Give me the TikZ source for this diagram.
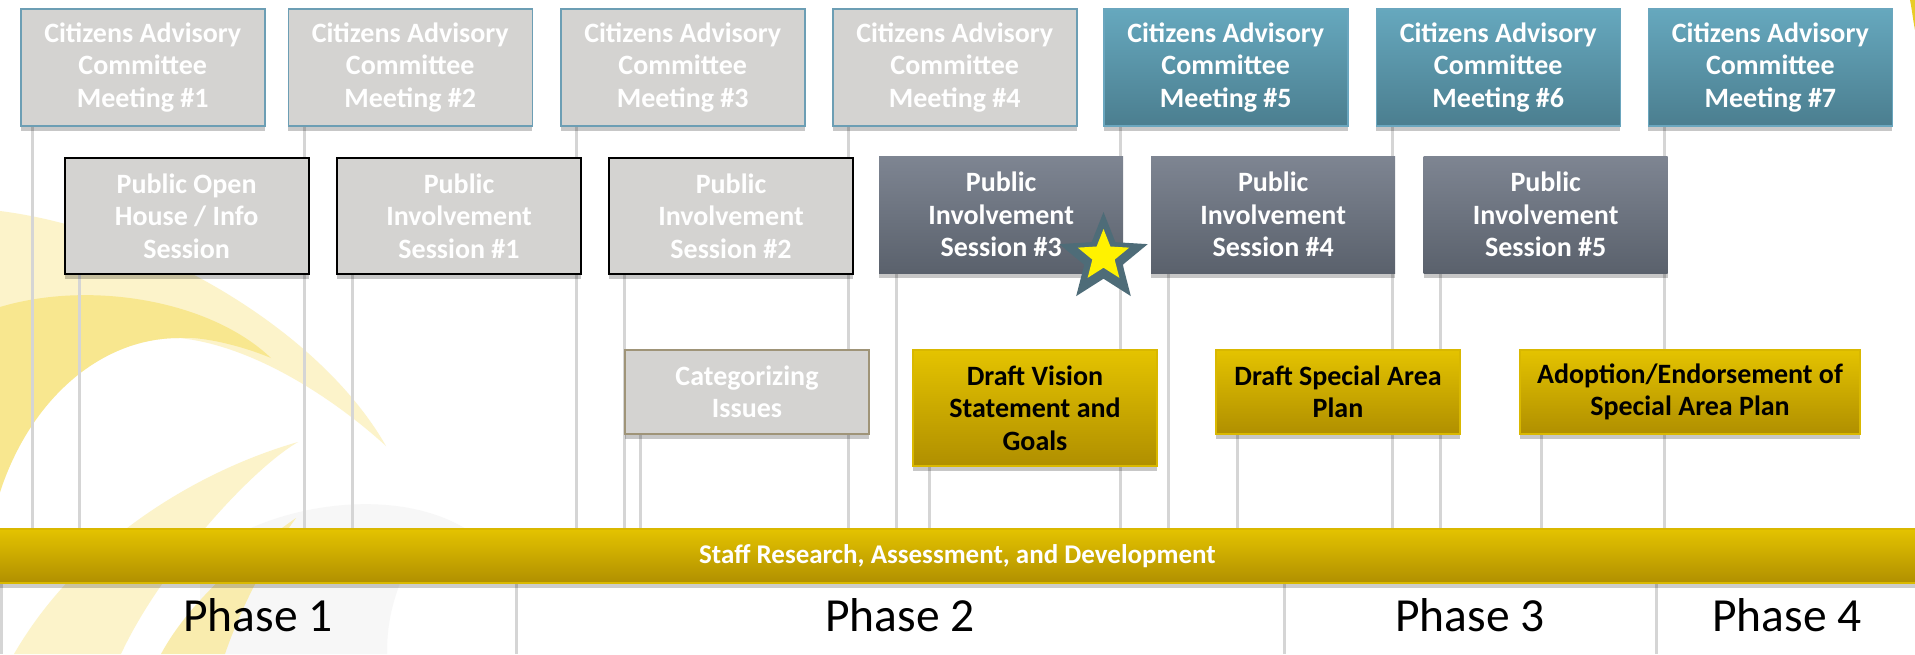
\documentclass[tikz,border=0pt]{standalone}
\usepackage{fontspec}
\setmainfont{Carlito}
\usetikzlibrary{shapes.geometric,shadows,calc}
\pgfdeclarelayer{deco}\pgfdeclarelayer{bg}
\pgfsetlayers{deco,bg,main}
\definecolor{boxgray}{HTML}{D4D3D1}
\definecolor{cacedge}{HTML}{6C9EB4}
\definecolor{tealtop}{HTML}{66A8BE}
\definecolor{tealbot}{HTML}{4B7E8F}
\definecolor{tealedge}{HTML}{6AA6BE}
\definecolor{slatetop}{HTML}{7E8592}
\definecolor{slatebot}{HTML}{5A616C}
\definecolor{ytop}{HTML}{E4C300}
\definecolor{ybot}{HTML}{B08F00}
\definecolor{yedge}{HTML}{D9B800}
\definecolor{catedge}{HTML}{9F9478}
\definecolor{vl}{HTML}{D5D5D5}
\definecolor{swpale}{HTML}{FCF3CA}
\definecolor{swdark}{HTML}{F8E78F}
\definecolor{swmid}{HTML}{F9ECAE}
\definecolor{faintgray}{HTML}{F7F7F7}
\definecolor{stardark}{HTML}{4E6C78}
\begin{document}
\begin{tikzpicture}[x=1pt,y=-1pt,
  box/.style={anchor=north west, inner sep=0pt, align=center,
    font=\bfseries\fontsize{28}{32.5}\selectfont, minimum width=244pt,
    drop shadow={shadow xshift=0pt,shadow yshift=-5pt,opacity=.22,fill=black}},
  cacold/.style={box, minimum height=117pt, fill=boxgray, draw=cacedge, line width=1.5pt, text=white},
  cacnew/.style={box, minimum height=117pt, top color=tealtop, bottom color=tealbot, draw=tealedge, line width=1.5pt, text=white},
  pisold/.style={box, minimum height=116pt, fill=boxgray, draw=black, line width=2pt, text=white},
  pisnew/.style={box, minimum height=117pt, top color=slatetop, bottom color=slatebot, draw=none, text=white},
  taskold/.style={box, fill=boxgray, draw=catedge, line width=2pt, text=white},
  tasknew/.style={box, top color=ytop, bottom color=ybot, draw=yedge, line width=2pt, text=black},
  vline/.style={draw=vl, line width=3pt},
  phaselbl/.style={anchor=base, font=\fontsize{47.5}{50}\selectfont, text=black},
]
\useasboundingbox (0,0) rectangle (1915,654);

% background decoration
\begin{pgfonlayer}{deco}
\fill[white] (0,0) rectangle (1915,654);
\fill[faintgray] (200,560) .. controls (260,505) and (400,480) .. (475,535)
  -- (400,583) .. controls (390,610) and (387,630) .. (387,654) -- (200,654) -- cycle;
\fill[swpale] (0,211) .. controls (150,230) and (320,330) .. (386,446)
  .. controls (330,395) and (250,345) .. (179,338)
  .. controls (100,338) and (30,400) .. (0,492) -- cycle;
\fill[swdark] (0,307) .. controls (90,280) and (210,300) .. (271,358)
  .. controls (240,345) and (200,336) .. (179,338)
  .. controls (100,338) and (30,400) .. (0,492) -- cycle;
\fill[swpale] (14,654) .. controls (80,540) and (200,470) .. (298,442)
  .. controls (250,470) and (160,570) .. (121,654) -- cycle;
\fill[swmid] (296,518) .. controls (250,550) and (190,600) .. (161,654)
  -- (225,654) .. controls (240,610) and (265,560) .. (296,518) -- cycle;
\fill[ytop!85!white] (1910,0) .. controls (1912,10) and (1913,20) .. (1915,30) -- (1915,0) -- cycle;
\end{pgfonlayer}

% row 1: Citizens Advisory Committee meetings
\node[cacold] (cac1) at (20,8)     {Citizens Advisory\\Committee\\Meeting \#1};
\node[cacold] (cac2) at (287.5,8)  {Citizens Advisory\\Committee\\Meeting \#2};
\node[cacold] (cac3) at (560,8)    {Citizens Advisory\\Committee\\Meeting \#3};
\node[cacold] (cac4) at (832,8)    {Citizens Advisory\\Committee\\Meeting \#4};
\node[cacnew] (cac5) at (1103,8)   {Citizens Advisory\\Committee\\Meeting \#5};
\node[cacnew] (cac6) at (1375.5,8) {Citizens Advisory\\Committee\\Meeting \#6};
\node[cacnew] (cac7) at (1647.6,8) {Citizens Advisory\\Committee\\Meeting \#7};

% row 2: public sessions
\node[pisold] (poh)  at (63.6,157)  {Public Open\\House / Info\\Session};
\node[pisold] (pis1) at (336,157)   {Public\\Involvement\\Session \#1};
\node[pisold] (pis2) at (608,157)   {Public\\Involvement\\Session \#2};
\node[pisnew] (pis3) at (879,156)   {Public\\Involvement\\Session \#3};
\node[pisnew] (pis4) at (1151,156)  {Public\\Involvement\\Session \#4};
\node[pisnew] (pis5) at (1423.5,156){Public\\Involvement\\Session \#5};

% row 3: tasks
\node[taskold, minimum height=84pt] (cat) at (624,349) {Categorizing\\Issues};
\node[tasknew, minimum height=116pt] (dvs) at (912,349) {Draft Vision\\Statement and\\Goals};
\node[tasknew, minimum height=84pt] (dsap) at (1215,349) {Draft Special Area\\Plan};
\node[tasknew, minimum height=84pt, minimum width=340pt] (adopt) at (1519,349) {Adoption/Endorsement of\\Special Area Plan};

% staff bar
\node[inner sep=0pt, minimum width=1935pt, minimum height=54pt,
  top color=ytop, bottom color=ybot, draw=yedge, line width=2pt, text=white,
  font=\bfseries\fontsize{27}{32}\selectfont,
  drop shadow={shadow xshift=0pt,shadow yshift=-5pt,opacity=.2,fill=black}]
  (bar) at (957.5,556) {Staff Research, Assessment, and Development};

% star
\node[star, star points=5, star point ratio=2.3, fill=stardark, inner sep=0pt, minimum size=93pt] (star) at (1103.5,258.5) {};
\node[star, star points=5, star point ratio=2.3, fill=yellow, inner sep=0pt, minimum size=54pt] (starin) at (1103.5,256) {};

% timeline connectors
\begin{pgfonlayer}{bg}
\foreach \n/\d in {cac1/12,cac2/16.5,cac3/16,cac4/16.5,cac5/17.5,cac6/17,cac7/16.5,
                   poh/16,pis1/16,pis2/16.5,pis3/17,pis4/17,pis5/17,
                   cat/16,dvs/17,dsap/22,adopt/22}
  \draw[vline] ([xshift=\d pt]\n.south west) -- ([xshift=\d pt]\n.south west |- bar.north);
\end{pgfonlayer}

% phases
\coordinate (d0) at (1.5,654);
\coordinate (d1) at (516,654);
\coordinate (d2) at (1284,654);
\coordinate (d3) at (1656,654);
\begin{pgfonlayer}{bg}
\foreach \c in {d0,d1,d2,d3} \draw[vline] (\c |- bar.south) -- (\c);
\end{pgfonlayer}
\node[phaselbl] (ph1) at (258,631)  {Phase 1};
\node[phaselbl] (ph2) at (900,631)  {Phase 2};
\node[phaselbl] (ph3) at (1470,631) {Phase 3};
\node[phaselbl] (ph4) at (1787,631) {Phase 4};
\end{tikzpicture}
\end{document}
